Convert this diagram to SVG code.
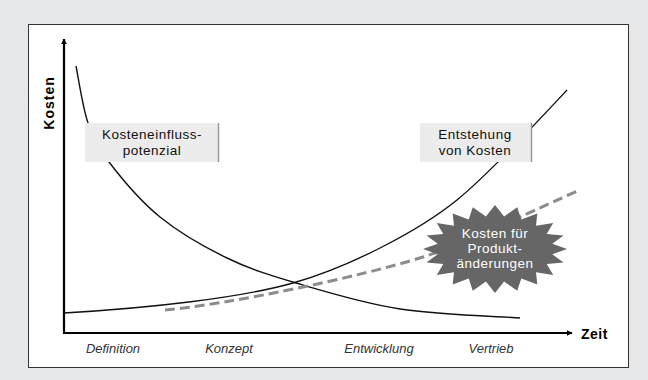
<svg xmlns="http://www.w3.org/2000/svg" width="648" height="380" viewBox="0 0 648 380">
<defs>
<style>
.lbl{font-family:"Liberation Sans",Arial,sans-serif;font-size:13.5px;letter-spacing:0.5px;fill:#111;text-anchor:middle}
.axis{font-family:"Liberation Sans",Arial,sans-serif;font-size:14px;font-weight:bold;fill:#000}
.phase{font-family:"Liberation Sans",Arial,sans-serif;font-size:13px;font-style:italic;fill:#333;text-anchor:middle}
.star{font-family:"Liberation Sans",Arial,sans-serif;font-size:13.5px;letter-spacing:0.5px;fill:#fff;text-anchor:middle}
.box{fill:#ececec}
.boxedge{stroke:#9a9a9a;stroke-width:1.5}
.curve{fill:none;stroke:#111;stroke-width:1.4}
</style>
<marker id="ah" viewBox="0 0 10 10" refX="9" refY="5" markerWidth="6" markerHeight="6" markerUnits="userSpaceOnUse" orient="auto">
<path d="M0,0 L10,5 L0,10 z" fill="#000"/>
</marker>
</defs>
<rect x="0" y="0" width="648" height="380" fill="#e6e7e8"/>
<rect x="28.5" y="24.5" width="600" height="343" fill="#fff" stroke="#333" stroke-width="1"/>

<g id="connectors">
<path id="cost-influence" class="curve" d="M76,66 C78,75.5 82.5,107 88,123 C93.5,139 97,146.3 109,162 C121,177.7 140.3,201 160,217 C179.7,233 204.3,247 227,258 C249.7,269 267.2,274.5 296,283 C324.8,291.5 362.7,303.2 400,309 C437.3,314.8 500,316.5 520,318"/>
<path id="dashed" fill="none" stroke="#8c8c8c" stroke-width="3" stroke-dasharray="10,5" d="M165,310 C230,304 360,277 423,257 C470,242 540,207 580,190"/>
<path id="cost-origin" class="curve" d="M64,313 C150,308 240,298 293,283 C350,267 420,230 457,200 C490,173 540,119 567,90"/>
</g>

<g id="axes">
<line x1="64" y1="334" x2="64" y2="39" stroke="#000" stroke-width="2.2" marker-end="url(#ah)"/>
<line x1="63" y1="333" x2="572" y2="333" stroke="#000" stroke-width="2.2" marker-end="url(#ah)"/>
<text class="axis" transform="translate(54,103) rotate(-90)" text-anchor="middle" letter-spacing="1">Kosten</text>
<text class="axis" x="581" y="339" letter-spacing="0.5">Zeit</text>
</g>

<g id="box-kosteneinfluss">
<rect class="box" x="85" y="123" width="134" height="39"/>
<line class="boxedge" x1="218.5" y1="123" x2="218.5" y2="162"/>
<text class="lbl" x="152" y="139">Kosteneinfluss-</text>
<text class="lbl" x="152" y="155">potenzial</text>
</g>

<g id="box-entstehung">
<rect class="box" x="420" y="123" width="112" height="39"/>
<line class="boxedge" x1="531.5" y1="123" x2="531.5" y2="162"/>
<text class="lbl" x="475" y="139">Entstehung</text>
<text class="lbl" x="475" y="155">von Kosten</text>
</g>

<g id="star-produktaenderungen">
<polygon fill="#666" points="495,205 504.1,216.4 517.2,207.2 521.3,219.6 537.3,213.4 536,225.7 553.2,223.1 546.7,234 563.5,235.4 552.3,243.8 567,249 552.3,254.2 563.5,262.6 546.7,264 553.2,274.9 536,272.3 537.3,284.6 521.3,278.4 517.2,290.8 504.1,281.6 495,293 485.9,281.6 472.8,290.8 468.7,278.4 452.7,284.6 454,272.3 436.8,274.9 443.3,264 426.5,262.6 437.7,254.2 423,249 437.7,243.8 426.5,235.4 443.3,234 436.8,223.1 454,225.7 452.7,213.4 468.7,219.6 472.8,207.2 485.9,216.4"/>
<text class="star" x="495" y="238">Kosten für</text>
<text class="star" x="495" y="253">Produkt-</text>
<text class="star" x="495" y="268">änderungen</text>
</g>

<g id="phases">
<text class="phase" x="113" y="353">Definition</text>
<text class="phase" x="229" y="353">Konzept</text>
<text class="phase" x="379" y="353">Entwicklung</text>
<text class="phase" x="491" y="353">Vertrieb</text>
</g>
</svg>
